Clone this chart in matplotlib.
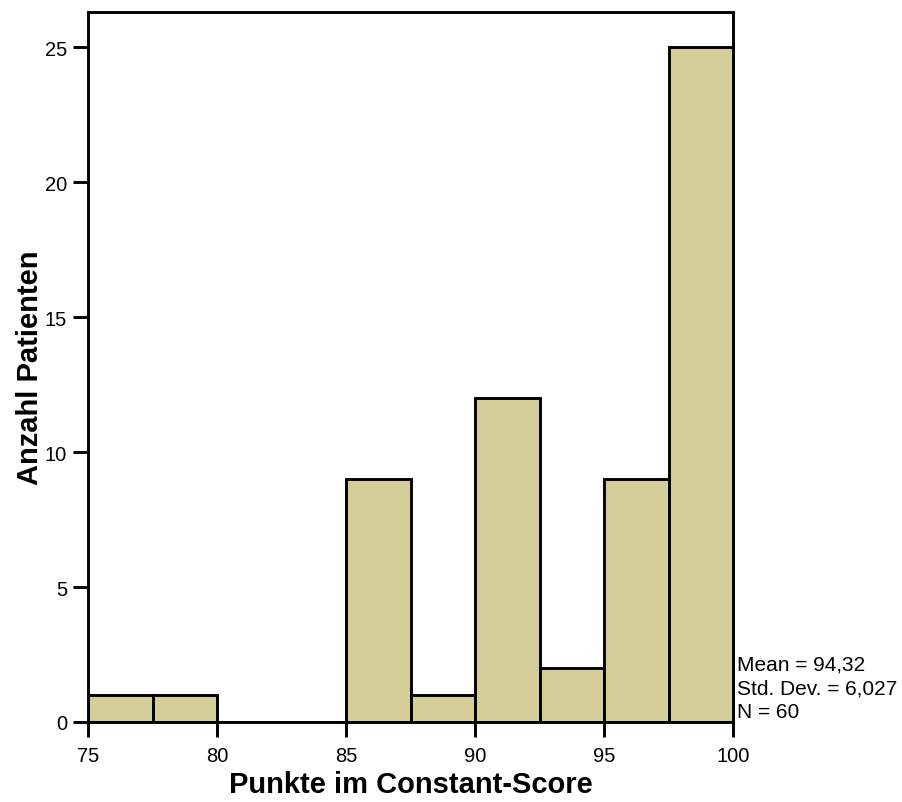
import matplotlib
matplotlib.use("Agg")
import matplotlib.pyplot as plt
import numpy as np

plt.rcParams['font.family'] = ['Liberation Sans', 'DejaVu Sans']

bin_edges = [75, 77.5, 80, 82.5, 85, 87.5, 90, 92.5, 95, 97.5, 100]
counts = [1, 1, 0, 0, 9, 1, 12, 2, 9, 25]
x_ticks = [75, 80, 85, 90, 95, 100]
y_ticks = [0, 5, 10, 15, 20, 25]
stats_text = "Mean = 94,32\nStd. Dev. = 6,027\nN = 60"
xlabel = "Punkte im Constant-Score"
ylabel = "Anzahl Patienten"

fig = plt.figure(figsize=(9.03, 8.03), dpi=100)
ax = fig.add_axes([88/903, 80/803, 645/903, 710/803])

lefts = np.array(bin_edges[:-1])
widths = np.diff(bin_edges)
ax.bar(lefts, counts, width=widths, align='edge', color='#D3CE98',
       edgecolor='black', linewidth=2.1)

ax.set_xlim(75, 100)
ax.set_ylim(0, 26.3)
ax.set_xticks(x_ticks)
ax.set_yticks(y_ticks)
ax.tick_params(axis='x', pad=6)
ax.tick_params(axis='y', pad=4)
ax.tick_params(axis='both', direction='out', length=11, width=2.1,
               labelsize=14.5)
for s in ax.spines.values():
    s.set_linewidth(2.1)

ax.set_xlabel(xlabel, fontsize=21, fontweight='bold', labelpad=4)
ax.set_ylabel(ylabel, fontsize=21, fontweight='bold', labelpad=1)

ax.text(1.006, 0.002, stats_text, transform=ax.transAxes, ha='left', va='bottom',
        fontsize=15, linespacing=1.3)

fig.savefig("out.png", dpi=100)
